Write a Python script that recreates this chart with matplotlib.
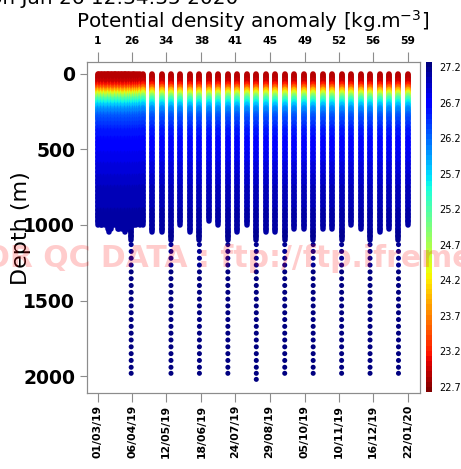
import numpy as np
import pandas as pd
import matplotlib
matplotlib.use("Agg")
import matplotlib.pyplot as plt
import matplotlib.dates as mdates
from matplotlib.colors import Normalize
from matplotlib.collections import LineCollection

# ---- data ----
# mean density profile (depth in m, sigma-theta in kg/m3)
level_depth = [0, 10, 20, 30, 40, 50, 60, 70, 80, 90, 100, 110, 120, 130, 140,
               150, 160, 170, 180, 190, 200, 210, 220, 230, 240, 250, 260, 270,
               280, 290, 300, 325, 350, 375, 400, 425, 450, 475, 500, 525, 550,
               575, 600, 625, 650, 675, 700, 725, 750, 775, 800, 825, 850, 875,
               900, 925, 950, 975, 1000, 1025, 1050, 1075, 1100]
level_sigma = [22.85, 22.85, 22.86, 22.88, 22.92, 22.98, 23.05, 23.15, 23.30,
               23.50, 23.72, 23.95, 24.20, 24.45, 24.70, 24.92, 25.12, 25.30,
               25.45, 25.58, 25.70, 25.80, 25.89, 25.97, 26.04, 26.10, 26.16,
               26.21, 26.26, 26.30, 26.34, 26.43, 26.50, 26.56, 26.61, 26.65,
               26.69, 26.72, 26.75, 26.78, 26.81, 26.83, 26.86, 26.88, 26.90,
               26.92, 26.94, 26.96, 26.98, 26.99, 27.01, 27.02, 27.04, 27.05,
               27.06, 27.08, 27.09, 27.10, 27.11, 27.12, 27.13, 27.14, 27.15]
# sparse deep samples of the 2000 m profiles
dot_depth = [1130, 1175, 1220, 1265, 1310, 1355, 1400, 1445, 1490, 1535, 1580,
             1625, 1670, 1715, 1760, 1805, 1850, 1895, 1940, 1980, 2020]
dot_sigma = [27.16, 27.17, 27.18, 27.19, 27.20, 27.21, 27.22, 27.22, 27.23,
             27.23, 27.24, 27.24, 27.25, 27.25, 27.26, 27.26, 27.26, 27.27,
             27.27, 27.27, 27.28]

# first weeks: dense sampling (days after 2019-03-01) and max depth
dense_days = [0, 1.5, 3, 4.5, 6, 7.5, 9, 10.5, 12, 13.5, 15, 16.5, 18, 19.5,
              21, 22.5, 24, 25.5, 27, 28.5, 30, 31.5, 33, 35, 36.5, 38, 40,
              42, 44.5, 47]
dense_bottom = [1000, 975, 1000, 1000, 975, 1000, 1000, 1025, 1050, 1025,
                1000, 1000, 975, 1000, 1025, 1025, 1000, 1025, 1025, 1050,
                1025, 1025, 1025, 1980, 1000, 1000, 1000, 975, 1000, 1000]

# 10-day cycles afterwards
cycle_dates = ["2019-04-27", "2019-05-07", "2019-05-17", "2019-05-27",
               "2019-06-06", "2019-06-16", "2019-06-26", "2019-07-06",
               "2019-07-16", "2019-07-26", "2019-08-05", "2019-08-15",
               "2019-08-25", "2019-09-04", "2019-09-14", "2019-09-24",
               "2019-10-04", "2019-10-14", "2019-10-24", "2019-11-03",
               "2019-11-13", "2019-11-23", "2019-12-03", "2019-12-13",
               "2019-12-23", "2020-01-02", "2020-01-12", "2020-01-22"]
cycle_bottom = [1050, 1050, 1980, 1000, 1050, 1980, 975, 1000, 1980, 1050,
                1000, 2020, 1050, 1050, 1980, 1025, 1025, 1980, 1025, 1025,
                1980, 1000, 1025, 1980, 1050, 1025, 1980, 1000]

# one lighter sample seen at depth
spot_date = "2019-12-13"
spot_depth = 915
spot_sigma = 26.45

date_labels = ["01/03/19", "06/04/19", "12/05/19", "18/06/19", "24/07/19",
               "29/08/19", "05/10/19", "10/11/19", "16/12/19", "22/01/20"]
profile_labels = ["1", "26", "34", "38", "41", "45", "49", "52", "56", "59"]
cbar_ticks = [22.7, 23.2, 23.7, 24.2, 24.7, 25.2, 25.7, 26.2, 26.7, 27.2]

# ---- build the marks ----
start = pd.Timestamp("2019-03-01")
segs, seg_c = [], []
dx, dy, dc = [], [], []


def add_profile(when, bottom):
    x = mdates.date2num(when)
    zs = [z for z in level_depth if z <= bottom]
    for i in range(len(zs) - 1):
        segs.append([(x, zs[i]), (x, zs[i + 1])])
        seg_c.append(level_sigma[i])
    for z, s in zip(dot_depth, dot_sigma):
        if z <= bottom:
            dx.append(x); dy.append(z); dc.append(s)


for d, b in zip(dense_days, dense_bottom):
    add_profile(start + pd.Timedelta(days=d), b)
for d, b in zip(cycle_dates, cycle_bottom):
    add_profile(pd.Timestamp(d), b)

W, H = 461, 469
fig = plt.figure(figsize=(W / 100, H / 100), dpi=100)
ax = fig.add_axes([87 / W, 1 - 393 / H, 333 / W, 331 / H])

cmap = plt.get_cmap("jet_r", 64)
norm = Normalize(vmin=22.63, vmax=27.27)

lc = LineCollection(segs, array=np.array(seg_c), cmap=cmap, norm=norm,
                    linewidths=4.0, capstyle="round")
ax.add_collection(lc)
ax.scatter(dx, dy, c=dc, cmap=cmap, norm=norm, s=13, linewidths=0)
ax.scatter([mdates.date2num(pd.Timestamp(spot_date))], [spot_depth],
           c=[spot_sigma], cmap=cmap, norm=norm, s=10, linewidths=0)

tick_dates = [mdates.date2num(pd.to_datetime(t, format="%d/%m/%y")) for t in date_labels]
x0 = mdates.date2num(pd.Timestamp("2019-03-01")) - 11.6
x1 = mdates.date2num(pd.Timestamp("2020-01-22")) + 12.7
ax.set_xlim(x0, x1)
ax.set_ylim(2110, -76)

grey = "#8c8c8c"
for sp in ax.spines.values():
    sp.set_color(grey)

ax.set_xticks(tick_dates)
ax.set_xticklabels(date_labels, rotation=90, fontsize=7.8, fontweight="bold")
ax.set_yticks([0, 500, 1000, 1500, 2000])
ax.set_yticklabels(["0", "500", "1000", "1500", "2000"], fontsize=13.5,
                   fontweight="bold")
ax.tick_params(axis="x", length=6.5, pad=2, color=grey)
ax.tick_params(axis="y", length=5, pad=3.5, color=grey)

top = ax.twiny()
top.set_xlim(x0, x1)
top.set_xticks(tick_dates)
top.set_xticklabels(profile_labels, fontsize=7.8, fontweight="bold")
top.tick_params(axis="x", length=7, pad=4.5, color=grey)
for sp in top.spines.values():
    sp.set_color(grey)

# colour bar
cax = fig.add_axes([426 / W, 1 - 392 / H, 6 / W, 330 / H])
cb = fig.colorbar(lc, cax=cax)
cb.outline.set_visible(False)
cb.set_ticks(cbar_ticks)
cb.set_ticklabels([f"{t:.1f}" for t in cbar_ticks])
cax.tick_params(length=0, pad=5, labelsize=7)

# texts
fig.text(253 / W, 1 - 28 / H, "Potential density anomaly [kg.m$^{-3}$]",
         ha="center", va="baseline", fontsize=14.4)
fig.text(238 / W, 1 - 4 / H, "Generated on Jan 26 12:34:35 2020",
         ha="right", va="baseline", fontsize=14.4)
fig.text(21 / W, 1 - 228 / H, "Depth (m)", rotation=90, ha="center",
         va="center", fontsize=16)
fig.text(-36 / W, 1 - 267 / H, "FOR QC DATA : ftp://ftp.ifremer.fr/ifremer/argo",
         ha="left", va="baseline", fontsize=21.5, fontweight="bold",
         color="red", alpha=0.2, zorder=10)

fig.savefig("out.png", dpi=100)
